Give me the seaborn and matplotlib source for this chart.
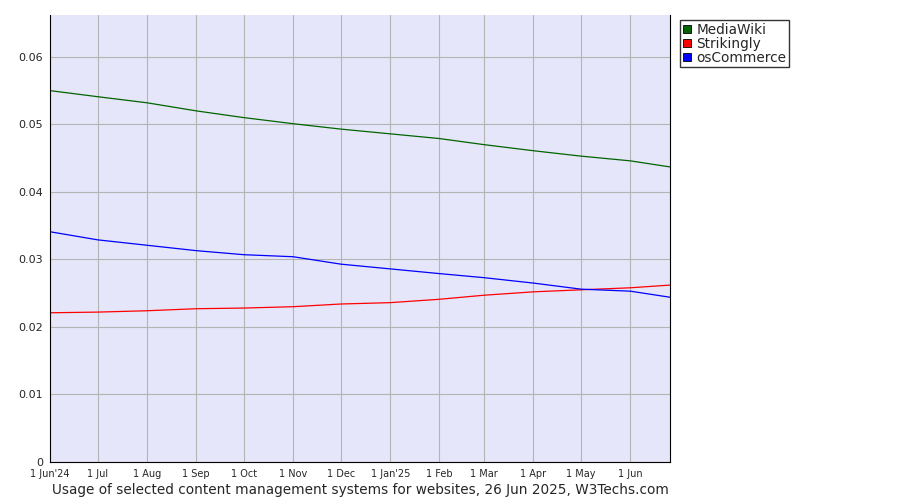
import pandas as pd
import numpy as np
import seaborn as sns
import matplotlib.pyplot as plt

dates = ['2024-06-01', '2024-07-01', '2024-08-01', '2024-09-01', '2024-10-01', '2024-11-01',
         '2024-12-01', '2025-01-01', '2025-02-01', '2025-03-01', '2025-04-01', '2025-05-01',
         '2025-06-01', '2025-06-26']
mediawiki = [0.0550, 0.0541, 0.0532, 0.0520, 0.0510, 0.0501, 0.0493, 0.0486, 0.0479,
             0.0470, 0.0461, 0.0453, 0.0446, 0.0437]
strikingly = [0.0221, 0.0222, 0.0224, 0.0227, 0.0228, 0.0230, 0.0234, 0.0236, 0.0241,
              0.0247, 0.0252, 0.0255, 0.0258, 0.0262]
oscommerce = [0.0341, 0.0329, 0.0321, 0.0313, 0.0307, 0.0304, 0.0293, 0.0286, 0.0279,
              0.0273, 0.0265, 0.0256, 0.0253, 0.0244]
tick_labels = ['1 Jun\'24', '1 Jul', '1 Aug', '1 Sep', '1 Oct', '1 Nov', '1 Dec', '1 Jan\'25',
               '1 Feb', '1 Mar', '1 Apr', '1 May', '1 Jun']

df = pd.DataFrame({'date': pd.to_datetime(dates), 'MediaWiki': mediawiki,
                   'Strikingly': strikingly, 'osCommerce': oscommerce})
long = df.melt(id_vars='date', var_name='system', value_name='share')
colors = {'MediaWiki': '#006400', 'Strikingly': '#ff0000', 'osCommerce': '#0000ff'}

sns.set_style('whitegrid')
plt.rcParams['font.family'] = ['DejaVu Sans']
fig = plt.figure(figsize=(9, 5), dpi=100)
ax = fig.add_axes([50 / 900, 38 / 500, 620 / 900, 447 / 500])
ax.set_facecolor('#e6e6fa')
sns.lineplot(data=long, x='date', y='share', hue='system', palette=colors, ax=ax,
             linewidth=0.9, legend=False)

ax.set_xlim(pd.Timestamp('2024-06-01'), pd.Timestamp('2025-06-26'))
ax.set_ylim(0, 0.0662)
ax.set_xticks(pd.to_datetime(dates[:-1]))
ax.set_xticklabels(tick_labels, fontsize=7)
ax.set_yticks(np.arange(0, 0.061, 0.01))
ax.set_yticklabels(['0', '0.01', '0.02', '0.03', '0.04', '0.05', '0.06'], fontsize=8)
ax.grid(True, color='#b4b4b4', linewidth=0.8)
for s in ax.spines.values():
    s.set_visible(False)
for side in ['left', 'bottom', 'right']:
    ax.spines[side].set_visible(True)
    ax.spines[side].set_color('black')
    ax.spines[side].set_linewidth(0.8)
ax.tick_params(axis='both', length=3, color='black', pad=2)
ax.set_xlabel('Usage of selected content management systems for websites, 26 Jun 2025, W3Techs.com',
              fontsize=9.8, labelpad=3)
ax.set_ylabel('')

handles = [plt.Rectangle((0, 0), 1, 1, facecolor=colors[k], edgecolor='black', linewidth=0.6)
           for k in colors]
fig.legend(handles, list(colors), loc='upper left', bbox_to_anchor=(680 / 900, 1 - 20 / 500),
           fontsize=9.8, frameon=True, fancybox=False, edgecolor='black', handlelength=0.6,
           handleheight=0.6, handletextpad=0.4, labelspacing=0.0, borderpad=0.2,
           borderaxespad=0)

fig.savefig('out.png', dpi=100)
